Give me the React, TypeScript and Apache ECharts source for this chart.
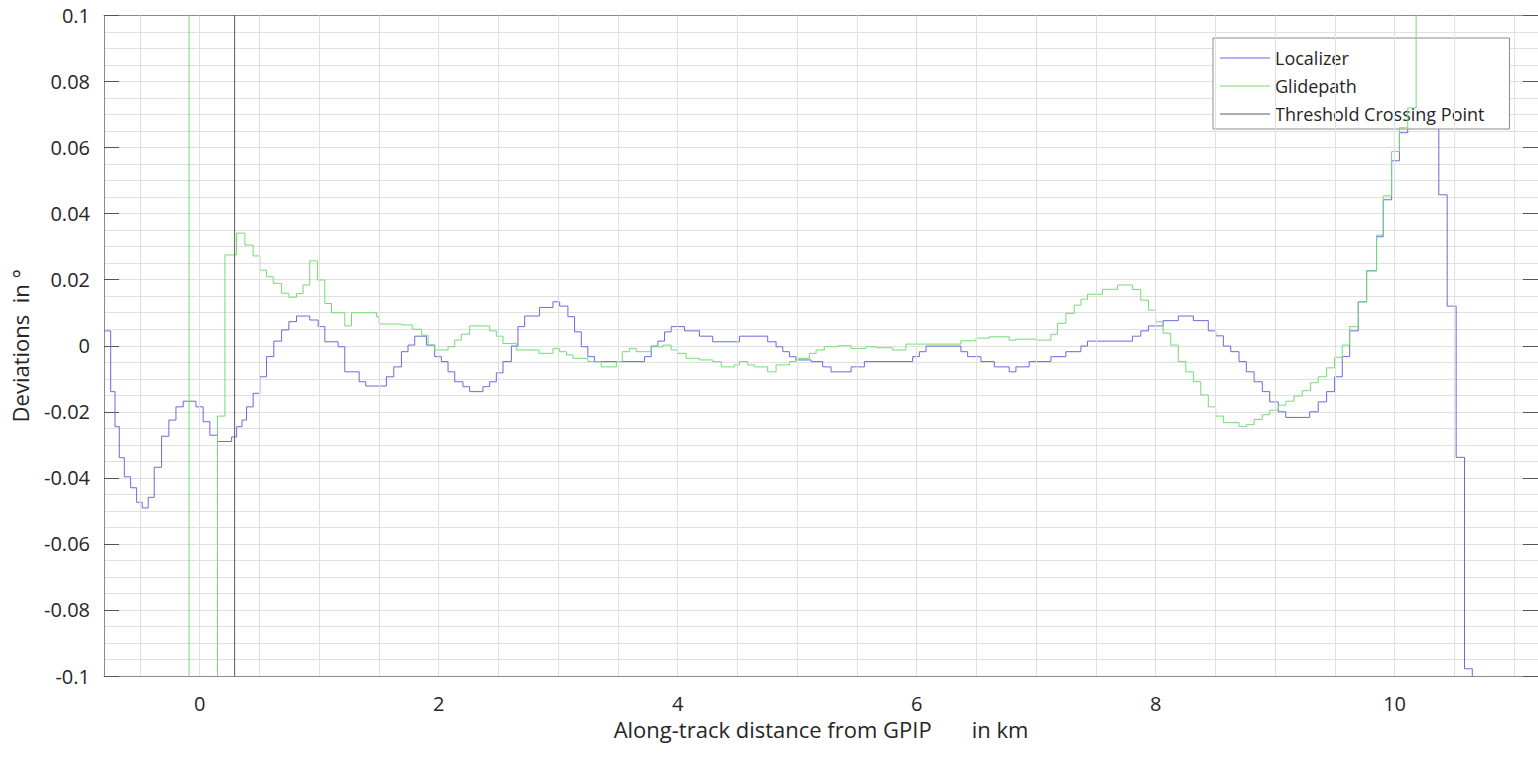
import React, { useEffect, useRef } from "react";
import * as echarts from "echarts";

// ---- Data ----
// Localizer deviation: [distance km, deviation °], each value held until the next point
const localizer: [number, number][] = [
  [-0.8, 0.0045], [-0.744, -0.0139], [-0.708, -0.0245], [-0.672, -0.0339], [-0.63, -0.0397],
  [-0.577, -0.043], [-0.527, -0.0474], [-0.48, -0.0491], [-0.43, -0.0459], [-0.38, -0.0368],
  [-0.318, -0.0274], [-0.257, -0.0225], [-0.198, -0.0185], [-0.137, -0.0168], [-0.031, -0.0185],
  [0.03, -0.023], [0.086, -0.0271], [0.15, -0.029], [0.268, -0.0276], [0.31, -0.0245],
  [0.355, -0.0225], [0.393, -0.0185], [0.448, -0.0144], [0.504, -0.0094], [0.56, -0.0033],
  [0.621, 0.0014], [0.686, 0.0048], [0.747, 0.0073], [0.811, 0.009], [0.922, 0.0078],
  [0.992, 0.0058], [1.048, 0.0012], [1.159, -0.0003], [1.215, -0.0079], [1.335, -0.0109],
  [1.39, -0.0122], [1.563, -0.0094], [1.625, -0.0064], [1.689, -0.0018], [1.744, 0.0002],
  [1.8, 0.0029], [1.898, 0.0002], [1.967, -0.0033], [2.023, -0.0048], [2.079, -0.0079],
  [2.135, -0.0109], [2.204, -0.0124], [2.26, -0.0139], [2.371, -0.0124], [2.427, -0.0109],
  [2.483, -0.0082], [2.539, -0.0048], [2.609, -0.0001], [2.664, 0.0058], [2.72, 0.009],
  [2.845, 0.0116], [2.957, 0.0133], [3.013, 0.012], [3.082, 0.0088], [3.138, 0.0042],
  [3.194, -0.0003], [3.249, -0.0033], [3.305, -0.0048], [3.723, -0.0033], [3.779, -0.0001],
  [3.835, 0.0014], [3.891, 0.0042], [3.946, 0.0058], [4.058, 0.0045], [4.183, 0.0029],
  [4.294, 0.0012], [4.518, 0.0029], [4.754, 0.0012], [4.824, -0.0003], [4.88, -0.0018],
  [4.936, -0.0033], [4.99, -0.0043], [5.117, -0.0048], [5.214, -0.0064], [5.284, -0.0079],
  [5.452, -0.0064], [5.563, -0.0048], [5.967, -0.0033], [6.023, -0.0018], [6.079, -0.0001],
  [6.371, -0.0018], [6.427, -0.0033], [6.538, -0.0048], [6.65, -0.0064], [6.775, -0.0079],
  [6.831, -0.0064], [6.942, -0.0048], [7.124, -0.0033], [7.249, -0.0018], [7.375, -0.0001],
  [7.43, 0.0014], [7.806, 0.0029], [7.876, 0.0045], [7.94, 0.006], [8.063, 0.0076],
  [8.19, 0.009], [8.316, 0.0076], [8.441, 0.0045], [8.503, 0.003], [8.567, -0.0001],
  [8.629, -0.0018], [8.698, -0.0048], [8.759, -0.0079], [8.824, -0.0109], [8.893, -0.0139],
  [8.955, -0.017], [9.027, -0.02], [9.089, -0.0217], [9.289, -0.02], [9.361, -0.017],
  [9.431, -0.0139], [9.498, -0.0094], [9.562, -0.0033], [9.624, 0.0045], [9.696, 0.0133],
  [9.766, 0.0227], [9.849, 0.033], [9.905, 0.0442], [9.975, 0.056], [10.04, 0.0645],
  [10.11, 0.075], [10.18, 0.082], [10.24, 0.078], [10.3, 0.068], [10.37, 0.0457],
  [10.44, 0.012], [10.515, -0.0338], [10.585, -0.0978], [10.65, -0.5],
];

// Glidepath deviation
const glidepath: [number, number][] = [
  [-0.088, 0.5], [-0.088, -0.5], [0.15, -0.0213], [0.212, 0.0275], [0.309, 0.0341],
  [0.379, 0.0305], [0.448, 0.0272], [0.504, 0.0229], [0.56, 0.0209], [0.616, 0.0189],
  [0.686, 0.0159], [0.747, 0.0147], [0.811, 0.0158], [0.866, 0.0184], [0.922, 0.0257],
  [0.987, 0.0199], [1.048, 0.0128], [1.104, 0.01], [1.215, 0.006], [1.271, 0.01],
  [1.48, 0.0088], [1.502, 0.0066], [1.689, 0.0063], [1.78, 0.005], [1.856, 0.0032],
  [1.912, 0.0002], [1.967, -0.0013], [2.079, -0.0003], [2.135, 0.0017], [2.19, 0.0035],
  [2.26, 0.006], [2.427, 0.0045], [2.483, 0.0029], [2.539, 0.0007], [2.65, -0.0013],
  [2.84, -0.0023], [2.957, -0.0008], [3.013, -0.0018], [3.07, -0.0028], [3.124, -0.0038],
  [3.249, -0.0048], [3.361, -0.0064], [3.487, -0.0048], [3.537, -0.0018], [3.598, -0.0008],
  [3.654, -0.0018], [3.779, -0.0003], [3.877, 0.0002], [3.946, -0.0013], [4.002, -0.0023],
  [4.072, -0.0038], [4.183, -0.0043], [4.294, -0.0048], [4.365, -0.0064], [4.476, -0.0058],
  [4.518, -0.0048], [4.587, -0.0058], [4.643, -0.0064], [4.754, -0.0079], [4.824, -0.0058],
  [4.936, -0.0048], [4.99, -0.0038], [5.103, -0.0023], [5.159, -0.0013], [5.228, -0.0003],
  [5.34, 0.0], [5.452, -0.0008], [5.577, -0.0003], [5.66, -0.0006], [5.8, -0.0013],
  [5.911, 0.0005], [6.371, 0.0015], [6.497, 0.0023], [6.608, 0.0027], [6.775, 0.0017],
  [6.831, 0.002], [6.998, 0.0017], [7.124, 0.0035], [7.179, 0.0068], [7.249, 0.0098],
  [7.319, 0.0123], [7.375, 0.0141], [7.43, 0.0156], [7.555, 0.0171], [7.681, 0.0184],
  [7.806, 0.017], [7.876, 0.0138], [7.94, 0.0108], [8.0, 0.0073], [8.063, 0.0038],
  [8.127, 0.0002], [8.19, -0.0048], [8.253, -0.0079], [8.316, -0.0109], [8.378, -0.0149],
  [8.441, -0.0185], [8.503, -0.0213], [8.567, -0.0233], [8.698, -0.0245], [8.759, -0.0239],
  [8.824, -0.0223], [8.893, -0.0209], [8.955, -0.0195], [9.027, -0.018], [9.089, -0.0168],
  [9.158, -0.0152], [9.227, -0.0136], [9.297, -0.0112], [9.361, -0.0094], [9.431, -0.0067],
  [9.498, -0.0035], [9.562, 0.0002], [9.624, 0.0058], [9.696, 0.0133], [9.766, 0.0227],
  [9.849, 0.0335], [9.905, 0.0454], [9.975, 0.0588], [10.04, 0.066], [10.11, 0.072],
  [10.18, 0.5],
];

// Threshold crossing point (vertical marker)
const thresholdX = 0.293;
const threshold: [number, number][] = [[thresholdX, -1], [thresholdX, 1]];

// Axis structure
const xMin = -0.8;
const xMax = 11.2;
const xTickLabels = [0, 2, 4, 6, 8, 10];
const xGridStep = 0.5;
const yMin = -0.1;
const yMax = 0.1;
const yInterval = 0.02;

const seriesNames = ["Localizer", "Glidepath", "Threshold Crossing Point"];
const seriesColors = ["#6a6adc", "#74dc74", "#5a5a5a"];

const FONT = "'Open Sans', 'Noto Sans', sans-serif";
const TEXT = "#262626";

export default function App() {
  const ref = useRef<HTMLDivElement>(null);

  useEffect(() => {
    if (!ref.current) return;
    const chart = echarts.init(ref.current, undefined, { renderer: "svg" });

    const vGrid: { xAxis: number }[] = [];
    for (let v = -0.5; v <= 11.0001; v += xGridStep) vGrid.push({ xAxis: Math.round(v * 10) / 10 });

    const commonX = {
      type: "value" as const,
      min: xMin,
      max: xMax,
      splitLine: { show: false },
      axisLine: { show: true, onZero: false, lineStyle: { color: "#8a8a8a", width: 1 } },
      axisTick: {
        show: true,
        inside: true,
        length: 15,
        customValues: xTickLabels,
        lineStyle: { color: "#555", width: 1 },
      },
    };

    const commonY = {
      type: "value" as const,
      min: yMin,
      max: yMax,
      interval: yInterval,
      axisLine: { show: true, onZero: false, lineStyle: { color: "#8a8a8a", width: 1 } },
      axisTick: { show: true, inside: true, length: 15, lineStyle: { color: "#555", width: 1 } },
    };

    chart.setOption({
      animation: false,
      backgroundColor: "#ffffff",
      textStyle: { fontFamily: FONT },
      grid: { left: 104, top: 15.5, width: 1435.5, height: 660.5, containLabel: false },
      legend: {
        data: seriesNames.map((n, i) => ({ name: n, icon: "rect", itemStyle: { color: seriesColors[i] } })),
        orient: "vertical",
        left: 1213,
        top: 38,
        padding: [10, 25, 5, 7],
        itemWidth: 50,
        itemHeight: 1.2,
        itemGap: 8,
        backgroundColor: "#ffffff",
        borderColor: "#8a8a8a",
        borderWidth: 1,
        borderRadius: 0,
        textStyle: { fontFamily: FONT, fontSize: 18, color: TEXT, lineHeight: 20, height: 20 },
        selectedMode: false,
      },
      xAxis: [
        {
          ...commonX,
          position: "bottom",
          name: "Along-track distance from GPIP\u00a0\u00a0\u00a0\u00a0\u00a0\u00a0 in km",
          nameLocation: "middle",
          nameGap: 38,
          nameTextStyle: { fontFamily: FONT, fontSize: 22, color: TEXT },
          axisLabel: {
            show: true,
            customValues: xTickLabels,
            margin: 17,
            fontFamily: FONT,
            fontSize: 20,
            color: TEXT,
          },
        },
        {
          ...commonX,
          position: "top",
          axisLabel: { show: false },
        },
      ],
      yAxis: [
        {
          ...commonY,
          position: "left",
          name: "Deviations\u00a0 in °",
          nameLocation: "middle",
          nameGap: 73,
          nameTextStyle: { fontFamily: FONT, fontSize: 22, color: TEXT },
          axisLabel: { show: true, margin: 14, fontFamily: FONT, fontSize: 20, color: TEXT },
          splitLine: { show: true, lineStyle: { color: "#e0e0e0", width: 1 } },
          minorTick: { show: false, splitNumber: 4 },
          minorSplitLine: { show: true, lineStyle: { color: "#e0e0e0", width: 1 } },
        },
        {
          ...commonY,
          position: "right",
          axisLabel: { show: false },
          splitLine: { show: false },
        },
      ],
      series: [
        {
          name: "gridlines",
          type: "line",
          data: [],
          z: 1,
          silent: true,
          markLine: {
            silent: true,
            symbol: ["none", "none"],
            label: { show: false },
            lineStyle: { type: "solid", color: "#e0e0e0", width: 1 },
            emphasis: { disabled: true },
            animation: false,
            data: vGrid,
          },
        },
        {
          name: seriesNames[0],
          type: "line",
          step: "end",
          data: localizer,
          showSymbol: false,
          symbol: "none",
          clip: true,
          z: 3,
          color: seriesColors[0],
          lineStyle: { color: seriesColors[0], width: 1 },
        },
        {
          name: seriesNames[1],
          type: "line",
          step: "end",
          data: glidepath,
          showSymbol: false,
          symbol: "none",
          clip: true,
          z: 4,
          color: seriesColors[1],
          lineStyle: { color: seriesColors[1], width: 1 },
        },
        {
          name: seriesNames[2],
          type: "line",
          data: threshold,
          showSymbol: false,
          symbol: "none",
          clip: true,
          z: 5,
          color: seriesColors[2],
          lineStyle: { color: seriesColors[2], width: 1 },
        },
      ],
    });

    return () => chart.dispose();
  }, []);

  return (
    <div
      ref={ref}
      style={{ position: "fixed", left: 0, top: 0, width: 1538, height: 757, background: "#fff" }}
    />
  );
}
